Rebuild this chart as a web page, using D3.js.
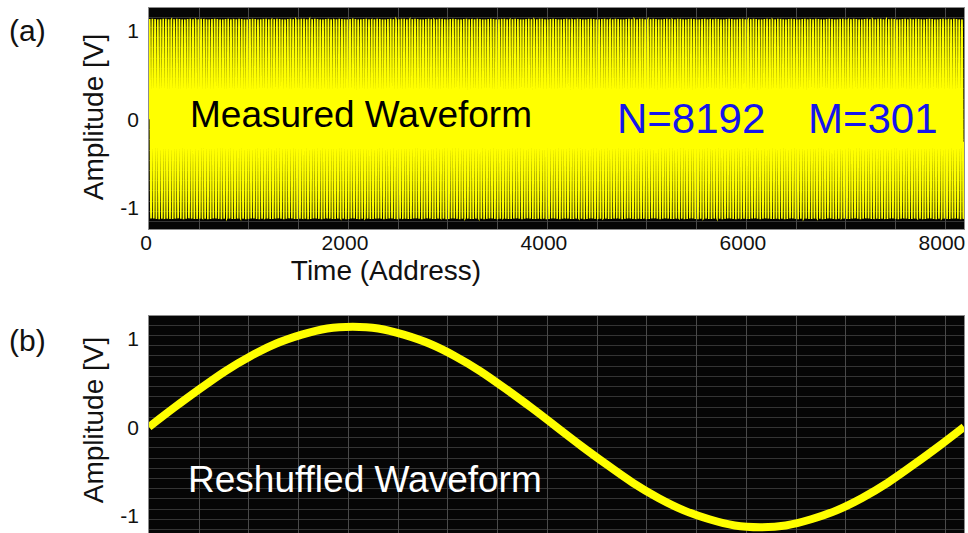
<!DOCTYPE html>
<html>
<head>
<meta charset="utf-8">
<script src="https://cdn.jsdelivr.net/npm/d3@7"></script>
<style>
    body { margin: 0; background: #ffffff; }
    svg { display: block; font-family: "Liberation Sans", Arial, sans-serif; }
</style>
</head>
<body>
<div id="chart"></div>
<script>
// Record length and number of cycles (from the label in panel a)
const N = 8192;
const M = 301;

// Reshuffled waveform: address -> amplitude [V]
const reshuffledAddress = [0, 256, 512, 768, 1024, 1280, 1536, 1792, 2048, 2304, 2560, 2816, 3072, 3328, 3584, 3840,
    4096, 4352, 4608, 4864, 5120, 5376, 5632, 5888, 6144, 6400, 6656, 6912, 7168, 7424, 7680, 7936, 8192];
const reshuffledValue = [0, 0.22, 0.43, 0.63, 0.80, 0.94, 1.04, 1.11, 1.13, 1.11, 1.04, 0.94, 0.80, 0.63, 0.43, 0.22,
    0, -0.22, -0.43, -0.63, -0.80, -0.94, -1.04, -1.11, -1.13, -1.11, -1.04, -0.94, -0.80, -0.63, -0.43, -0.22, 0];

// Tick labels
const xTicks = [0, 2000, 4000, 6000, 8000];
const yTicks = [1, 0, -1];

const width = 968;
const height = 533;

const svg = d3.select("#chart")
    .append("svg")
    .attr("width", width)
    .attr("height", height);

// both panels share the x scale
const xScale = d3.scaleLinear().domain([0, N]).range([149, 964]);
const yDomain = [-1.24, 1.25];

// Look up the reshuffled curve at any address (piecewise between the read points)
const reshuffledAt = d3.scaleLinear().domain(reshuffledAddress).range(reshuffledValue);

// The measured record: sample n sits at address (n*M) mod N of the reshuffled record
const measured = d3.range(N).map(n => ({ n: n, v: reshuffledAt((n * M) % N) }));
const reshuffled = reshuffledAddress.map((a, i) => ({ a: a, v: reshuffledValue[i] }));

function drawPanel(id, top, bottom) {
    const yScale = d3.scaleLinear().domain(yDomain).range([bottom, top]);
    const g = svg.append("g");

    g.append("clipPath").attr("id", "clip-" + id)
        .append("rect")
        .attr("x", xScale(0)).attr("y", top)
        .attr("width", xScale(N) - xScale(0)).attr("height", bottom - top);

    // black scope background
    g.append("rect")
        .attr("x", xScale(0)).attr("y", top)
        .attr("width", xScale(N) - xScale(0)).attr("height", bottom - top)
        .attr("fill", "#060606");

    const grid = g.append("g").attr("clip-path", `url(#clip-${id})`);

    // fine horizontal grid
    const hLines = d3.range(-11, 12).map(k => k * 0.115);
    grid.selectAll("line.h").data(hLines).enter().append("line")
        .attr("class", "h")
        .attr("x1", xScale(0)).attr("x2", xScale(N))
        .attr("y1", d => Math.round(yScale(d)) + 0.5).attr("y2", d => Math.round(yScale(d)) + 0.5)
        .attr("stroke", "#353535").attr("stroke-width", 1);

    // vertical grid every 500 addresses
    const vLines = d3.range(500, N, 500);
    grid.selectAll("line.v").data(vLines).enter().append("line")
        .attr("class", "v")
        .attr("x1", d => Math.round(xScale(d)) + 0.5).attr("x2", d => Math.round(xScale(d)) + 0.5)
        .attr("y1", top).attr("y2", bottom)
        .attr("stroke", "#4a4a4a").attr("stroke-width", 1);

    // frame
    g.append("rect")
        .attr("x", xScale(0) - 0.5).attr("y", top - 0.5)
        .attr("width", xScale(N) - xScale(0) + 1).attr("height", bottom - top + 1)
        .attr("fill", "none").attr("stroke", "#8c8c8c").attr("stroke-width", 1);

    // y tick labels
    g.selectAll("text.ytick").data(yTicks).enter().append("text")
        .attr("class", "ytick")
        .attr("x", 139)
        .attr("y", d => yScale(d))
        .attr("dy", "0.36em")
        .attr("text-anchor", "end")
        .attr("font-size", 21)
        .attr("fill", "#111")
        .text(d => d);

    return { g: grid, yScale: yScale };
}

// ---- panel (a): measured waveform
const panelA = drawPanel("a", 8, 229);

const lineA = d3.line()
    .x(d => xScale(d.n))
    .y(d => panelA.yScale(d.v));

panelA.g.append("path")
    .datum(measured)
    .attr("d", lineA)
    .attr("fill", "none")
    .attr("stroke", "#ffff00")
    .attr("stroke-width", 1.6);

panelA.g.append("text")
    .attr("x", 190).attr("y", 127)
    .attr("font-size", 37)
    .attr("fill", "#000")
    .text("Measured Waveform");

panelA.g.append("text")
    .attr("x", 617).attr("y", 133)
    .attr("font-size", 42)
    .attr("fill", "#1515ec")
    .text(`N=${N}`);

panelA.g.append("text")
    .attr("x", 808).attr("y", 133)
    .attr("font-size", 42)
    .attr("fill", "#1515ec")
    .text(`M=${M}`);

// x tick labels under panel (a)
svg.selectAll("text.xtick").data(xTicks).enter().append("text")
    .attr("class", "xtick")
    .attr("x", d => xScale(d) - 3)
    .attr("y", 249.5)
    .attr("text-anchor", "middle")
    .attr("font-size", 21)
    .attr("fill", "#111")
    .text(d => d);

svg.append("text")
    .attr("x", 386).attr("y", 280)
    .attr("text-anchor", "middle")
    .attr("font-size", 28)
    .attr("fill", "#111")
    .text("Time (Address)");

// ---- panel (b): reshuffled waveform
const panelB = drawPanel("b", 316, 537);

const lineB = d3.line()
    .x(d => xScale(d.a))
    .y(d => panelB.yScale(d.v))
    .curve(d3.curveNatural);

panelB.g.append("path")
    .datum(reshuffled)
    .attr("d", lineB)
    .attr("fill", "none")
    .attr("stroke", "#ffff00")
    .attr("stroke-width", 8);

panelB.g.append("text")
    .attr("x", 188).attr("y", 492)
    .attr("font-size", 37)
    .attr("fill", "#ffffff")
    .text("Reshuffled Waveform");

// axis titles and panel letters
[["(a)", 41, 117], ["(b)", 351, 420]].forEach(([label, base, mid]) => {
    svg.append("text")
        .attr("x", 9).attr("y", base)
        .attr("font-size", 30)
        .attr("fill", "#111")
        .text(label);

    svg.append("text")
        .attr("transform", `translate(103, ${mid}) rotate(-90)`)
        .attr("text-anchor", "middle")
        .attr("font-size", 28)
        .attr("fill", "#111")
        .text("Amplitude [V]");
});
</script>
</body>
</html>
